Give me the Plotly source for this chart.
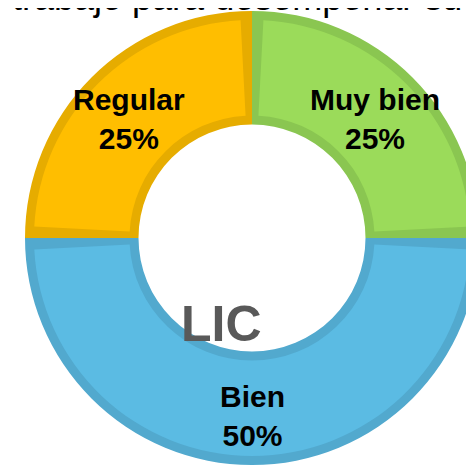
import math
import plotly.graph_objects as go

# ---- data ----
categories = ["Muy bien", "Bien", "Regular"]
values = [25, 50, 25]
fill_colors = ["#9BDB5A", "#5BBBE3", "#FFBE00"]
border_colors = ["#8AC651", "#52A9CE", "#E6AC00"]
title_text = "trabajo para desempeñar su"
center_text = "LIC"

W, H = 474, 471
OFF = 8                          # page body margin offset
cx, cy, R = 252 - OFF, 238 - OFF, 227   # ring geometry in figure px
bw = 9                           # inner border width (px)
hole_frac = 0.5
gap_deg = 6.0                    # angular gap showing the dark border between slices
FONT = "Liberation Sans, Arial"

total = sum(values)
pcts = [v / total * 100 for v in values]

def dom(r):
    return dict(x=[max(0.0, (cx - r) / W), min(1.0, (cx + r) / W)],
                y=[max(0.0, 1 - (cy + r) / H), min(1.0, 1 - (cy - r) / H)])

fig = go.Figure()

# dark base ring (provides the borders)
fig.add_trace(go.Pie(
    values=values, labels=categories, sort=False, direction="clockwise",
    hole=hole_frac, marker=dict(colors=border_colors, line=dict(width=0)),
    textinfo="none", hoverinfo="skip", domain=dom(R), showlegend=False,
))

# lighter fill ring with gaps
G = gap_deg / 360 * total
top_vals, top_cols = [], []
for v, fc in zip(values, fill_colors):
    top_vals += [v - G, G]
    top_cols += [fc, "rgba(0,0,0,0)"]
r2 = R - bw
fig.add_trace(go.Pie(
    values=top_vals, sort=False, direction="clockwise", rotation=gap_deg / 2,
    hole=(R * hole_frac + bw) / r2,
    marker=dict(colors=top_cols, line=dict(width=0)),
    textinfo="none", hoverinfo="skip", domain=dom(r2), showlegend=False,
))

# slice labels placed at the middle of each slice (angle from data)
rmid = R * (1 + hole_frac) / 2 + 4
cum = 0
for c, v, p in zip(categories, values, pcts):
    ang = math.radians((cum + v / 2) / total * 360)
    cum += v
    px = cx + rmid * math.sin(ang)
    py = cy - rmid * math.cos(ang) + 4
    fig.add_annotation(
        text=f"<b>{c}<br>{p:.0f}%</b>", x=px / W, y=1 - py / H, xref="paper", yref="paper",
        xanchor="center", yanchor="middle", showarrow=False,
        font=dict(family=FONT, size=30, color="black"),
    )

fig.add_annotation(
    text=f"<b>{center_text}</b>", x=(221 - OFF) / W, y=1 - (324 - OFF) / H, xref="paper", yref="paper",
    xanchor="center", yanchor="middle", showarrow=False,
    font=dict(family=FONT, size=50, color="#595959"),
)
fig.add_annotation(
    text=title_text, x=2 / W, y=1, xref="paper", yref="paper", xanchor="left", yanchor="bottom",
    yshift=-12, showarrow=False, font=dict(family=FONT, size=36, color="black"),
)

fig.update_layout(width=W, height=H, margin=dict(l=0, r=0, t=0, b=0),
                  paper_bgcolor="white", plot_bgcolor="white", showlegend=False)
fig.write_html("out.html")
